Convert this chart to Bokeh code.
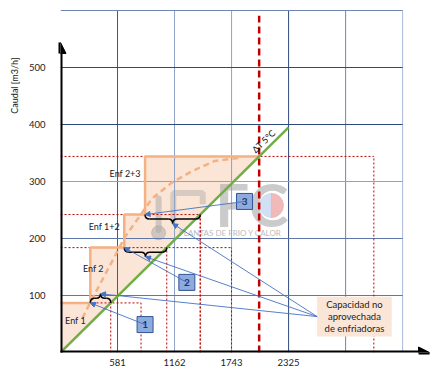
import math
from bokeh.plotting import figure
from bokeh.models import Range1d, Arrow, NormalHead, Label, FixedTicker, ColumnDataSource, Title
from bokeh.core.properties import value
from bokeh.embed import file_html
from bokeh.resources import INLINE

# ---------------- data ----------------
q_ticks = [100, 200, 300, 400, 500]
kw_ticks = [581, 1162, 1743, 2325]
grid_kw = [581.25, 1162.5, 1743.75, 2325.0, 2906.25, 3487.5]
grid_q = [100, 200, 300, 400, 500, 600]

stage_names = ["Enf 1", "Enf 2", "Enf 1+2", "Enf 2+3"]
stage_q = [87, 184, 242, 344]          # flow level of each chiller stage [m3/h]
stage_start_kw = [0, 304, 650, 862]    # power at which the stage starts [kW]
stage_ref_kw = [821, 1743, 1424, 3194] # end of the red dotted reference lines [kW]
marked_q = 344

dt_kw = [0, 2325]                      # ΔT 5°C line
dt_q = [0, 395]
design_kw = 2025

curve_kw = [223, 304, 477, 659, 933, 1136, 1338, 1572, 1845]
curve_q = [60, 88, 144, 203, 270, 298, 318, 336, 342]

box_ids = ["1", "2", "3"]
box_kw = [862, 1288, 1876]
box_q = [49, 123, 265]

note_lines = ["Capacidad no", "aprovechada", "de enfriadoras"]
note_kw = [2616, 3376]
note_q = [28, 98]

# ---------------- styles ----------------
FONT = "Lato"
KW_PX = 581.25 / 57.33   # kW per screen pixel
Q_PX = 100 / 57.0        # m3/h per screen pixel
ORANGE = "#f4b183"
FILL = "#fbe5d6"
GREEN = "#70ad47"
RED = "#c00000"
BLUE = "#4472c4"
v_colors = ["#3c5a8c", "#8fa2c6", "#8fa2c6", "#2e4a7d", "#6f86b3", "#a8b8d6"]
h_colors = ["#5f77a8", "#5f77a8", "#8fa2c6", "#2e4a7d", "#2e4a7d", "#6f86b3"]

p = figure(width=432, height=372, output_backend="svg", toolbar_location=None,
           x_range=Range1d(0, 374 * KW_PX), y_range=Range1d(0, 352 * Q_PX),
           min_border_left=58, min_border_right=0, min_border_top=0, min_border_bottom=20)
p.outline_line_color = None
p.background_fill_color = "white"
p.border_fill_color = "white"
p.xgrid.visible = False
p.ygrid.visible = False

# axes (tick labels only; the thick arrows are drawn separately)
for ax in (p.xaxis[0], p.yaxis[0]):
    ax.axis_line_color = None
    ax.major_tick_line_color = None
    ax.minor_tick_line_color = None
    ax.major_tick_out = 0
    ax.major_tick_in = 0
    ax.minor_tick_out = 0
    ax.minor_tick_in = 0
    ax.major_label_text_font = FONT
    ax.major_label_text_font_size = "9.5px"
    ax.major_label_text_color = "#222222"
p.xaxis[0].ticker = FixedTicker(ticks=kw_ticks)
p.xaxis[0].major_label_standoff = 6
p.yaxis[0].ticker = FixedTicker(ticks=q_ticks)
p.yaxis[0].major_label_standoff = 15

# y-axis title, placed in the left panel towards the top
p.add_layout(Title(text="Caudal [m3/h]", align="right", offset=57, standoff=12,
                   text_font=FONT, text_font_size="9px", text_font_style="normal",
                   text_color="#222222"), "left")

slope = dt_q[1] / dt_kw[1]
def on_dt(q):
    return q / slope

# staircase of chiller stages
step_x = [0]
step_y = [stage_q[0]]
for i in range(1, len(stage_q)):
    step_x += [stage_start_kw[i], stage_start_kw[i]]
    step_y += [stage_q[i - 1], stage_q[i]]
step_x.append(on_dt(stage_q[-1]))
step_y.append(stage_q[-1])

p.patch([0] + step_x, [0] + step_y, fill_color=FILL, line_color=None)

# watermark logo (faint)
wm_x = 1700
wm_y = 250
p.text([wm_x + 250], [wm_y + 10], text=["FC"], text_font=value(FONT), text_font_style="bold",
       text_font_size="60px", text_color="#a8a8a8", text_alpha=0.6,
       text_align="center", text_baseline="middle")
p.wedge([wm_x + 450], [wm_y + 8], radius=12, radius_units="screen",
        start_angle=math.pi / 2, end_angle=3 * math.pi / 2, color="#cddcf3", alpha=0.9)
p.wedge([wm_x + 450], [wm_y + 8], radius=12, radius_units="screen",
        start_angle=-math.pi / 2, end_angle=math.pi / 2, color="#eeb3b3", alpha=0.9)
p.text([wm_x + 30], [wm_y - 40], text=["PLANTAS DE FRIO Y CALOR"], text_font=value(FONT),
       text_font_size="8px", text_color="#a8a8a8", text_alpha=0.8,
       text_align="center", text_baseline="middle")
p.segment([1000], [wm_y - 35], [1000], [wm_y + 20], line_color="#a8a8a8", line_width=6, line_alpha=0.5,
          line_cap="round")
p.scatter([1000], [wm_y - 40], size=14, color="#a8a8a8", alpha=0.5)
p.multi_line([[1150, 1150, 1450, 1450]], [[wm_y - 20, wm_y + 30, wm_y + 30, wm_y + 10]],
             line_color="#a8a8a8", line_width=6, line_alpha=0.45)

# grid
p.segment(x0=grid_kw, y0=[0] * len(grid_kw), x1=grid_kw, y1=[grid_q[-1]] * len(grid_kw),
          line_color=v_colors, line_width=1)
p.segment(x0=[0] * len(grid_q), y0=grid_q, x1=[grid_kw[-1]] * len(grid_q), y1=grid_q,
          line_color=h_colors, line_width=1)

# red dotted reference lines
p.segment(x0=[0] * len(stage_q), y0=stage_q, x1=stage_ref_kw, y1=stage_q,
          line_color=RED, line_width=1, line_dash="2 2")
p.segment(x0=stage_ref_kw, y0=[0] * len(stage_q), x1=stage_ref_kw, y1=stage_q,
          line_color=RED, line_width=1, line_dash="2 2")
inter = [on_dt(q) for q in stage_q[:-1]]
p.segment(x0=inter, y0=[0] * len(inter), x1=inter, y1=stage_q[:-1],
          line_color=RED, line_width=1, line_dash="2 2")
p.segment(x0=[design_kw], y0=[0], x1=[design_kw], y1=[591],
          line_color=RED, line_width=2.5, line_dash="7 4")

# staircase, dashed curve and ΔT line
p.line(step_x, step_y, line_color=ORANGE, line_width=2.5)
p.line(curve_kw, curve_q, line_color=ORANGE, line_width=2.5, line_dash="6 4")
p.line(dt_kw, dt_q, line_color=GREEN, line_width=2.5)

# braces marking unused capacity
dirs = [1, -1, -1]
bh = 16
r = 45
tips_x, tips_y, corner_x, corner_y = [], [], [], []
for i in range(3):
    xa = stage_start_kw[i + 1]
    xb = on_dt(stage_q[i])
    lv = stage_q[i]
    d = dirs[i]
    ym = lv + d * bh / 2
    tip = lv + d * bh
    xm = (xa + xb) / 2
    p.quadratic(x0=[xa, xm - r, xm, xb - r], y0=[lv, ym, tip, ym],
                x1=[xa + r, xm, xm + r, xb], y1=[ym, tip, ym, lv],
                cx=[xa, xm, xm, xb], cy=[ym, ym, ym, ym],
                line_color="black", line_width=1.5)
    p.segment(x0=[xa + r, xm + r], y0=[ym, ym], x1=[xm - r, xb - r], y1=[ym, ym],
              line_color="black", line_width=1.5)
    tips_x.append(xm)
    tips_y.append(tip)
    corner_x.append(xa)
    corner_y.append(lv)

# callout lines
src_a = ColumnDataSource(dict(x0=box_kw, y0=box_q, x1=corner_x, y1=corner_y))
p.add_layout(Arrow(source=src_a, x_start="x0", y_start="y0", x_end="x1", y_end="y1",
                   line_color=BLUE, line_width=0.9,
                   end=NormalHead(size=5, fill_color=BLUE, line_color=BLUE)))
nmid = (note_q[0] + note_q[1]) / 2
src_b = ColumnDataSource(dict(x0=[note_kw[0]] * 3, y0=[nmid] * 3, x1=tips_x, y1=tips_y))
p.add_layout(Arrow(source=src_b, x_start="x0", y_start="y0", x_end="x1", y_end="y1",
                   line_color=BLUE, line_width=0.9,
                   end=NormalHead(size=5, fill_color=BLUE, line_color=BLUE)))

# numbered boxes
p.scatter(box_kw, box_q, marker="square", size=16, fill_color="#8faadc", line_color="#2f5597",
          line_width=1)
p.text(box_kw, box_q, text=box_ids, text_font=value(FONT), text_font_size="10px",
       text_font_style="bold", text_color="#1f3864", text_align="center", text_baseline="middle")

# note box
p.quad(left=[note_kw[0]], right=[note_kw[1]], bottom=[note_q[0]], top=[note_q[1]],
       fill_color=FILL, line_color=None)
nx = (note_kw[0] + note_kw[1]) / 2
step = (note_q[1] - note_q[0]) / 3.4
p.text([nx] * 3, [nmid + step, nmid, nmid - step], text=note_lines, text_font=value(FONT),
       text_font_size="9.5px", text_color="#222222", text_align="center", text_baseline="middle")

# stage labels
lab_kw = [152, 335, 446, 659]
lab_q = [56, 147, 221, 314]
p.text(lab_kw, lab_q, text=stage_names, text_font=value(FONT), text_font_size="9px",
       text_color="#222222", text_align="center", text_baseline="middle")

# ΔT label
p.text([2070], [371], text=["ΔT 5°C"], angle=math.radians(44), text_font=value(FONT),
       text_font_size="9px", text_color="#111111", text_align="center", text_baseline="middle")

# marked value and x-axis title
p.add_layout(Label(x=-26 * KW_PX, y=marked_q, text=str(marked_q), text_font=FONT,
                   text_font_size="7.5px", text_color="#222222",
                   text_align="center", text_baseline="middle"))
p.add_layout(Label(x=2981, y=-12 * Q_PX, text="Potencia [KW]", text_font=FONT,
                   text_font_size="9px", text_color="#222222",
                   text_align="center", text_baseline="middle"))

# axis arrows
p.add_layout(Arrow(x_start=0, y_start=-2 * Q_PX, x_end=0, y_end=544,
                   line_color="black", line_width=4,
                   end=NormalHead(size=11, fill_color="black", line_color="black")))
p.add_layout(Arrow(x_start=-2 * KW_PX, y_start=0, x_end=3762, y_end=0,
                   line_color="black", line_width=4,
                   end=NormalHead(size=11, fill_color="black", line_color="black")))

open("out.html", "w").write(file_html(p, INLINE))
